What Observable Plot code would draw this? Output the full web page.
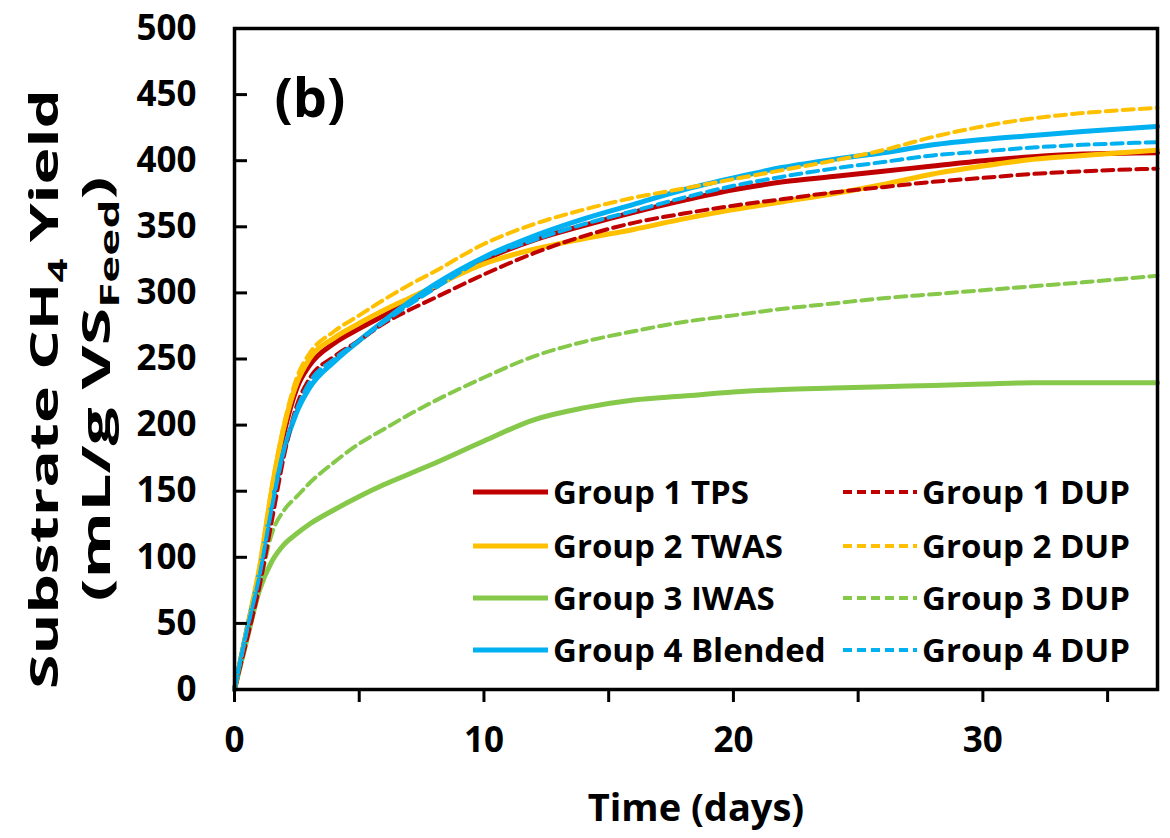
<!DOCTYPE html>
<html>
<head>
<meta charset="utf-8">
<script src="https://cdn.jsdelivr.net/npm/d3@7"></script>
<script src="https://cdn.jsdelivr.net/npm/@observablehq/plot@0.6"></script>
<style>
  html, body { margin: 0; padding: 0; background: #fff; }
  #chart { width: 1170px; height: 838px; }
</style>
</head>
<body>
<div id="chart"></div>
<script>
// ---- data ----
const days = [0, 0.5, 1, 1.5, 2, 2.5, 3, 4, 5, 6, 7, 8, 10, 12, 14, 16, 18, 20, 22, 24, 26, 28, 30, 32, 34, 37];

const g1TPS      = [0, 45, 88, 145, 195, 228, 245, 262, 273, 283, 293, 304, 325, 340, 351, 361, 370, 378, 384, 388, 392, 396, 400, 403, 405, 406];
const g2TWAS     = [0, 46, 92, 152, 200, 232, 250, 266, 277, 287, 296, 305, 322, 333, 341, 348, 356, 363, 369, 375, 382, 390, 396, 401, 404, 408];
const g3IWAS     = [0, 38, 75, 97, 110, 118, 125, 136, 146, 155, 163, 171, 188, 204, 213, 219, 222, 225, 227, 228, 229, 230, 231, 232, 232, 232];
const g4Blended  = [0, 45, 88, 140, 182, 210, 228, 248, 264, 279, 293, 306, 327, 343, 356, 367, 378, 387, 395, 401, 406, 412, 416, 419, 422, 426];

const g1DUP = [0, 38, 78, 128, 178, 215, 235, 252, 264, 277, 287, 296, 314, 330, 343, 353, 360, 366, 371, 376, 380, 384, 387, 390, 392, 394];
const g2DUP = [0, 46, 93, 154, 202, 236, 254, 271, 283, 295, 306, 316, 337, 352, 363, 372, 379, 386, 393, 400, 408, 418, 426, 432, 436, 440];
const g3DUP = [0, 38, 78, 118, 136, 146, 156, 172, 186, 197, 208, 218, 236, 252, 263, 271, 278, 283, 288, 292, 296, 299, 302, 305, 308, 313];
const g4DUP = [0, 45, 86, 138, 182, 212, 232, 250, 264, 278, 291, 303, 326, 340, 352, 362, 372, 381, 388, 394, 399, 404, 407, 410, 412, 414];

const seriesNames  = ["Group 1 TPS", "Group 2 TWAS", "Group 3 IWAS", "Group 4 Blended",
                      "Group 1 DUP", "Group 2 DUP", "Group 3 DUP", "Group 4 DUP"];
const seriesValues = [g1TPS, g2TWAS, g3IWAS, g4Blended, g1DUP, g2DUP, g3DUP, g4DUP];
const seriesColors = ["#C00000", "#FFC000", "#86C84A", "#00B0F0",
                      "#C00000", "#FFC000", "#86C84A", "#00B0F0"];
const seriesDashed = [false, false, false, false, true, true, true, true];

const yTicks = [0, 50, 100, 150, 200, 250, 300, 350, 400, 450, 500];
const xMinorTicks = [0, 5, 10, 15, 20, 25, 30, 35];
const xLabelTicks = [0, 10, 20, 30];

// ---- layout ----
const W = 1170, H = 838;
const mL = 234, mR = 13, mT = 28, mB = 149;
const innerW = W - mL - mR;
const FONT = "'Open Sans', 'Noto Sans', sans-serif";

const drawOrder = [2, 0, 1, 3, 6, 4, 5, 7];
const lineMarks = drawOrder.map(i =>
  Plot.line(days, {
    x: d => d,
    y: (d, j) => seriesValues[i][j],
    stroke: seriesColors[i],
    strokeWidth: seriesDashed[i] ? 4 : 5,
    strokeDasharray: seriesDashed[i] ? "11,6" : null,
    curve: "monotone-x"
  })
);

const chart = Plot.plot({
  width: W, height: H,
  marginLeft: mL, marginRight: mR, marginTop: mT, marginBottom: mB,
  style: { fontFamily: FONT, fontWeight: "bold", color: "#000", background: "#fff", overflow: "visible" },
  x: { domain: [0, 37] },
  y: { domain: [0, 500] },
  marks: [
    ...lineMarks,
    Plot.frame({ stroke: "#000", strokeWidth: 3.5 }),
    Plot.tickY(yTicks, { y: d => d, insetRight: innerW - 13, stroke: "#000", strokeWidth: 3 }),
    Plot.axisY(yTicks, { tickSize: 0, tickPadding: 38, fontSize: 35, fontWeight: "bold", label: null }),
    Plot.axisX(xMinorTicks, { tickSize: 13, tickFormat: () => "", strokeWidth: 3, label: null }),
    Plot.axisX(xLabelTicks, { tickSize: 0, tickPadding: 38, fontSize: 35, fontWeight: "bold", label: null }),
    Plot.text(["Time (days)"], { frameAnchor: "bottom", dy: 131, fontSize: 38, fontWeight: "bold", text: d => d }),
    Plot.text(["(b)"], { frameAnchor: "top-left", dx: 40, dy: 50, fontSize: 54, fontWeight: "bold", textAnchor: "start", text: d => d })
  ]
});

document.getElementById("chart").appendChild(chart);

// ---- y-axis title (two lines with subscripts) ----
const svg = d3.select(chart);
const yCenter = 389;
function yTitle(x, parts, targetLen) {
  const g = svg.append("g").attr("transform", `translate(${x},${yCenter}) rotate(-90)`);
  const t = g.append("text")
    .attr("text-anchor", "middle")
    .attr("font-family", FONT).attr("font-weight", "bold").attr("font-size", 40).attr("fill", "#000");
  parts.forEach(p => {
    const s = t.append("tspan").text(p.text);
    if (p.sub) s.attr("font-size", 27).attr("dy", 9);
    else if (p.after) s.attr("dy", -9);
  });
  const len = t.node().getComputedTextLength();
  if (len > 0) t.attr("transform", `scale(${targetLen / len},1)`);
}
yTitle(58, [{ text: "Substrate CH" }, { text: "4", sub: true }, { text: " Yield", after: true }], 600);
yTitle(110, [{ text: "(mL/g VS" }, { text: "Feed", sub: true }, { text: ")", after: true }], 425);

// ---- legend ----
const legendRows = [492, 546, 598, 650];
const legendCols = [{ x1: 473, x2: 548, tx: 553 }, { x1: 843, x2: 917, tx: 922 }];
const lg = svg.append("g");
seriesNames.forEach((name, i) => {
  const col = legendCols[seriesDashed[i] ? 1 : 0];
  const y = legendRows[i % 4];
  lg.append("line")
    .attr("x1", col.x1).attr("x2", col.x2).attr("y1", y).attr("y2", y)
    .attr("stroke", seriesColors[i])
    .attr("stroke-width", seriesDashed[i] ? 4 : 5)
    .attr("stroke-dasharray", seriesDashed[i] ? "9,5" : null);
  lg.append("text")
    .attr("x", col.tx).attr("y", y).attr("dy", "0.35em")
    .attr("text-anchor", "start")
    .attr("font-family", FONT).attr("font-weight", "bold").attr("font-size", 33).attr("fill", "#000")
    .text(name);
});
</script>
</body>
</html>
